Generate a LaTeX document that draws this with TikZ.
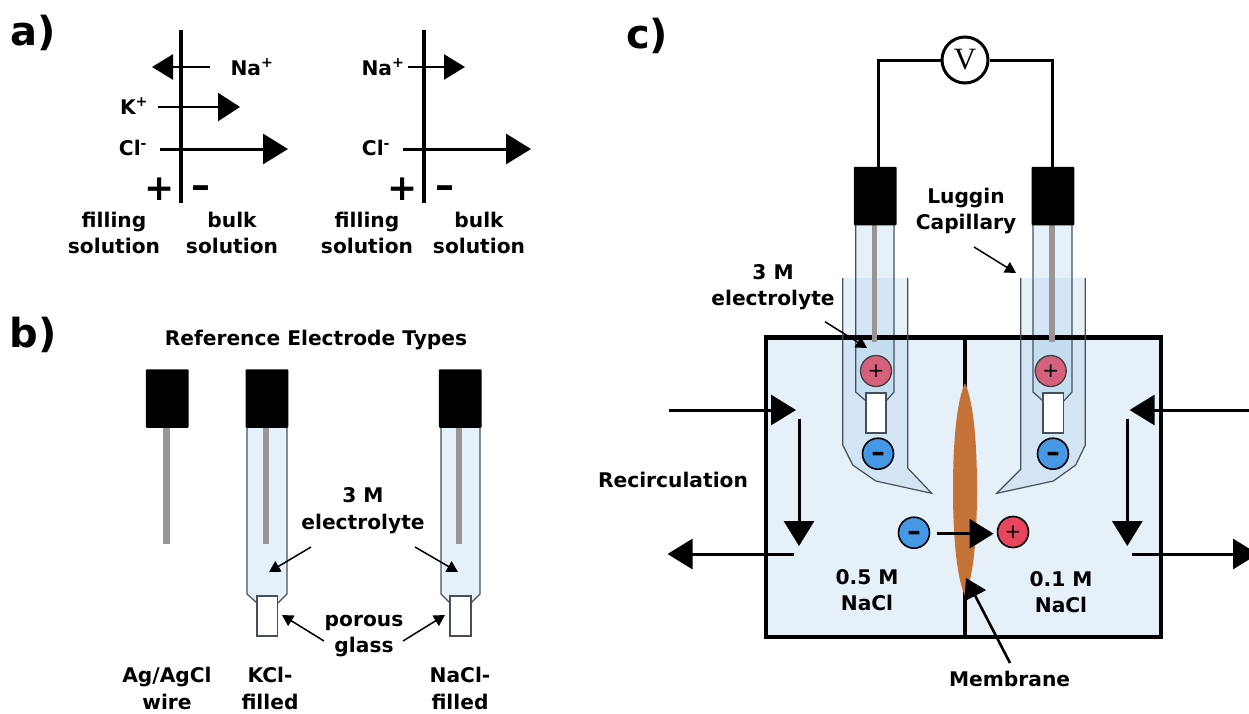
\documentclass[tikz,border=0pt]{standalone}
\usepackage{fontspec}
\setmainfont{DejaVu Sans}
\newfontfamily\vfont{Liberation Serif}
\usetikzlibrary{arrows.meta}
\definecolor{boxfill}{HTML}{E5F0F8}
\definecolor{overlay}{HTML}{9FC6EA}
\definecolor{wirec}{HTML}{9A9494}
\definecolor{tubeline}{HTML}{46505A}
\definecolor{membr}{HTML}{C47237}
\definecolor{pluspale}{HTML}{D4607C}
\definecolor{plusred}{HTML}{E8465F}
\definecolor{minusblue}{HTML}{4697E4}
\tikzset{
  lab/.style={font=\fontsize{20.2}{26.5}\selectfont\bfseries,align=center,inner sep=0pt,text=black},
  panel/.style={font=\fontsize{40}{42}\selectfont\bfseries,inner sep=0pt},
  sign/.style={font=\fontsize{36}{38}\selectfont\bfseries,inner sep=0pt},
  minussign/.style={font=\fontsize{38}{38}\selectfont\bfseries,inner sep=0pt},
  capnode/.style={fill=black,rounded corners=1pt,inner sep=0pt,outer sep=0pt,minimum width=42.7pt,minimum height=58.5pt},
  frit/.style={fill=white,draw=tubeline,line width=1.4pt},
  olay/.style={fill=overlay,fill opacity=.25,draw=none},
  tubeedge/.style={draw=tubeline,line width=1.2pt},
  wirestyle/.style={fill=wirec,draw=none},
  barline/.style={line width=3.4pt,draw=black},
  thinarrow/.style={line width=1.5pt,-{Triangle[length=11pt,width=12pt]}},
  bigarrow/.style={line width=3pt,-{Triangle[length=25pt,width=30pt]}},
  smallarrow/.style={line width=2.6pt,-{Triangle[length=21pt,width=25pt]}},
  midarrow/.style={line width=2.6pt,-{Triangle[length=22pt,width=28pt]}},
  ionbase/.style={circle,draw=black,inner sep=0pt,outer sep=0pt,minimum size=31pt},
  minusion/.style={ionbase,fill=minusblue,line width=1.6pt,font=\fontsize{27}{27}\selectfont\bfseries},
  plusion/.style={ionbase,fill=pluspale,draw=black!75,line width=1.3pt,font=\fontsize{20}{20}\selectfont},
}
% connector between two named coordinates
\newcommand{\conn}[4]{\coordinate (#1-a) at (#2);\coordinate (#1-b) at (#3);\draw[#4] (#1-a) -- (#1-b);}
\newcommand{\cminus}{\smash{\raisebox{-.3em}{–}}}
% tube: left x, right x, top y, shoulder y, frit left, frit right
\newcommand{\tube}[6]{%
  \fill[olay] (#1,#3) -- (#1,#4) -- (#5,#4+9) -- (#6,#4+9) -- (#2,#4) -- (#2,#3) -- cycle;
  \draw[tubeedge] (#1,#3) -- (#1,#4) -- (#5,#4+9);
  \draw[tubeedge] (#2,#3) -- (#2,#4) -- (#6,#4+9);}
\begin{document}
\begin{tikzpicture}[x=1pt,y=-1pt]
\fill[white,use as bounding box] (0,0) rectangle (1249,713);
\clip (0,0) rectangle (1249,713);

% ---------- panel a
\node[panel] (la) at (33,33) {a)};
\conn{m1}{181,30}{181,203}{barline}
\conn{m2}{424,30}{424,203}{barline}
\conn{a1}{210,67}{152,67}{smallarrow}
\node[lab] (na1) at (252,67) {Na\textsuperscript{+}};
\node[lab] (k1) at (134,106) {K\textsuperscript{+}};
\conn{a2}{158,107}{240,107}{midarrow}
\node[lab] (cl1) at (133,148) {Cl\textsuperscript{-}};
\conn{a3}{160,149}{288,149}{bigarrow}
\node[sign] (p1) at (160,189) {+};
\node[minussign] (n1) at (201,187) {\cminus};
\node[lab] (f1) at (114,233) {filling\\solution};
\node[lab] (b1) at (232,233) {bulk\\solution};
\node[lab] (na2) at (383,67) {Na\textsuperscript{+}};
\conn{a4}{408,67}{465,67}{smallarrow}
\node[lab] (cl2) at (376,148) {Cl\textsuperscript{-}};
\conn{a5}{403,149}{531,149}{bigarrow}
\node[sign] (p2) at (403,189) {+};
\node[minussign] (n2) at (445,187) {\cminus};
\node[lab] (f2) at (367,233) {filling\\solution};
\node[lab] (b2) at (479,233) {bulk\\solution};

% ---------- panel b
\node[panel] (lb) at (33,335) {b)};
\node[lab] (title) at (316,340) {Reference Electrode Types};
\tube{247}{287}{428}{594}{257}{278}
\tube{441}{480}{428}{594}{450}{471}
\fill[wirestyle] (163.3,428) rectangle (170,544);
\fill[wirestyle] (262.7,428) rectangle (269.3,544);
\fill[wirestyle] (455.7,428) rectangle (462,544);
\node[capnode] (capA) at (167.3,398.5) {};
\node[capnode] (capB) at (267,398.5) {};
\node[capnode] (capC) at (460.3,398.5) {};
\filldraw[frit] (257,596) rectangle (277.7,636);
\filldraw[frit] (450,596) rectangle (471,636);
\node[lab] (el) at (363,510.5) {3 M\\electrolyte};
\conn{e1}{311,547}{269,572}{thinarrow}
\conn{e2}{415,547}{458,572}{thinarrow}
\node[lab] (pg) at (364,636) {porous\\glass};
\conn{g1}{324,641}{282,615}{thinarrow}
\conn{g2}{403,641}{445,615}{thinarrow}
\node[lab] (t1) at (167,688.5) {Ag/AgCl\\wire};
\node[lab] (t2) at (270,688.5) {KCl-\\filled};
\node[lab] (t3) at (460,688.5) {NaCl-\\filled};

% ---------- panel c
\node[panel] (lc) at (647,36) {c)};
% box fill
\fill[boxfill] (766,337.5) rectangle (1161,637);
% luggin capillaries
\fill[olay] (842.7,278) -- (842.7,445) -- (852.7,465) -- (875.7,481) -- (931.7,493.3) -- (907.7,468) -- (907.7,278) -- cycle;
\fill[olay] (1085.3,278) -- (1085.3,445) -- (1075.7,465) -- (1053.3,481) -- (996.7,493.3) -- (1020.7,469.3) -- (1020.7,278) -- cycle;
% inner tubes
\tube{855.7}{894}{225}{392}{866}{886}
\tube{1033}{1072}{225}{392}{1043}{1063.7}
% box outline and divider
\draw[line width=4.2pt,line join=miter] (766,337.5) rectangle (1161,637);
\draw[line width=4.2pt] (965,337.5) -- (965,390);
\draw[line width=4.2pt] (965,590) -- (965,637);
% luggin outlines
\draw[tubeedge] (842.7,278) -- (842.7,445) -- (852.7,465) -- (875.7,481) -- (931.7,493.3) -- (907.7,468) -- (907.7,278);
\draw[tubeedge] (1085.3,278) -- (1085.3,445) -- (1075.7,465) -- (1053.3,481) -- (996.7,493.3) -- (1020.7,469.3) -- (1020.7,278);
% wires
\fill[wirestyle] (871.7,225) rectangle (877.3,341.7);
\fill[wirestyle] (1049.3,225) rectangle (1055,341.7);
% caps
\node[capnode] (capL) at (875.3,196) {};
\node[capnode] (capR) at (1053,196) {};
% frits
\filldraw[frit] (866,393) rectangle (886,433);
\filldraw[frit] (1043,393) rectangle (1063.7,433);
% voltmeter
\node[circle,draw=black,line width=3pt,minimum size=46pt,inner sep=0pt,font=\vfont\fontsize{31}{31}\selectfont] (vm) at (965,60) {V};
\coordinate (wl) at (878,168);
\coordinate (wr) at (1052,168);
\draw[line width=3pt] (vm.west) -| (wl);
\draw[line width=3pt] (vm.east) -| (wr);
% ions
\node[plusion] (pL) at (876,371) {+};
\node[plusion] (pR) at (1050.7,371) {+};
\node[minusion] (mL) at (878,453.7) {\cminus};
\node[minusion] (mR) at (1053,453.7) {\cminus};
% membrane
\fill[membr] (965,383) .. controls (973,400) and (977,440) .. (977,489) .. controls (977,540) and (973,578) .. (965,596) .. controls (957,578) and (953,540) .. (953,489) .. controls (953,440) and (957,400) .. (965,383) -- cycle;
\node[minusion] (mC) at (914,532.7) {\cminus};
\node[plusion,fill=plusred,draw=black,line width=1.6pt] (pC) at (1013,532) {+};
\coordinate (mcb) at (993.6,533.7);
\coordinate (mca) at (937,533.7);
\draw[midarrow,-{Triangle[length=24pt,width=29pt]}] (mca) -- (mcb);
% recirculation arrows
\conn{r1}{669,410}{796,410}{bigarrow}
\conn{r2}{1249,410}{1129.6,410}{bigarrow}
\conn{r3}{799,418.7}{799,546}{bigarrow}
\conn{r4}{1127.3,418.7}{1127.3,546}{bigarrow}
\conn{r5}{794,554}{667.5,554}{bigarrow}
\conn{r6}{1132,554}{1258,554}{bigarrow}
% labels
\node[lab] (rec) at (673,480) {Recirculation};
\node[lab] (sl) at (867,590) {0.5 M\\NaCl};
\node[lab] (sr) at (1061,592) {0.1 M\\NaCl};
\node[lab] (mem) at (1009.6,679) {Membrane};
\conn{mm}{1010,663}{966,578}{line width=2.6pt,-{Triangle[length=20pt,width=24pt]}}
\node[lab] (lug) at (966,211) {Luggin\\Capillary};
\conn{lu}{974,247}{1016,273}{thinarrow}
\node[lab] (e3) at (773,287) {3 M\\electrolyte};
\conn{e4}{825,321.7}{867,348}{thinarrow}
\end{tikzpicture}
\end{document}
